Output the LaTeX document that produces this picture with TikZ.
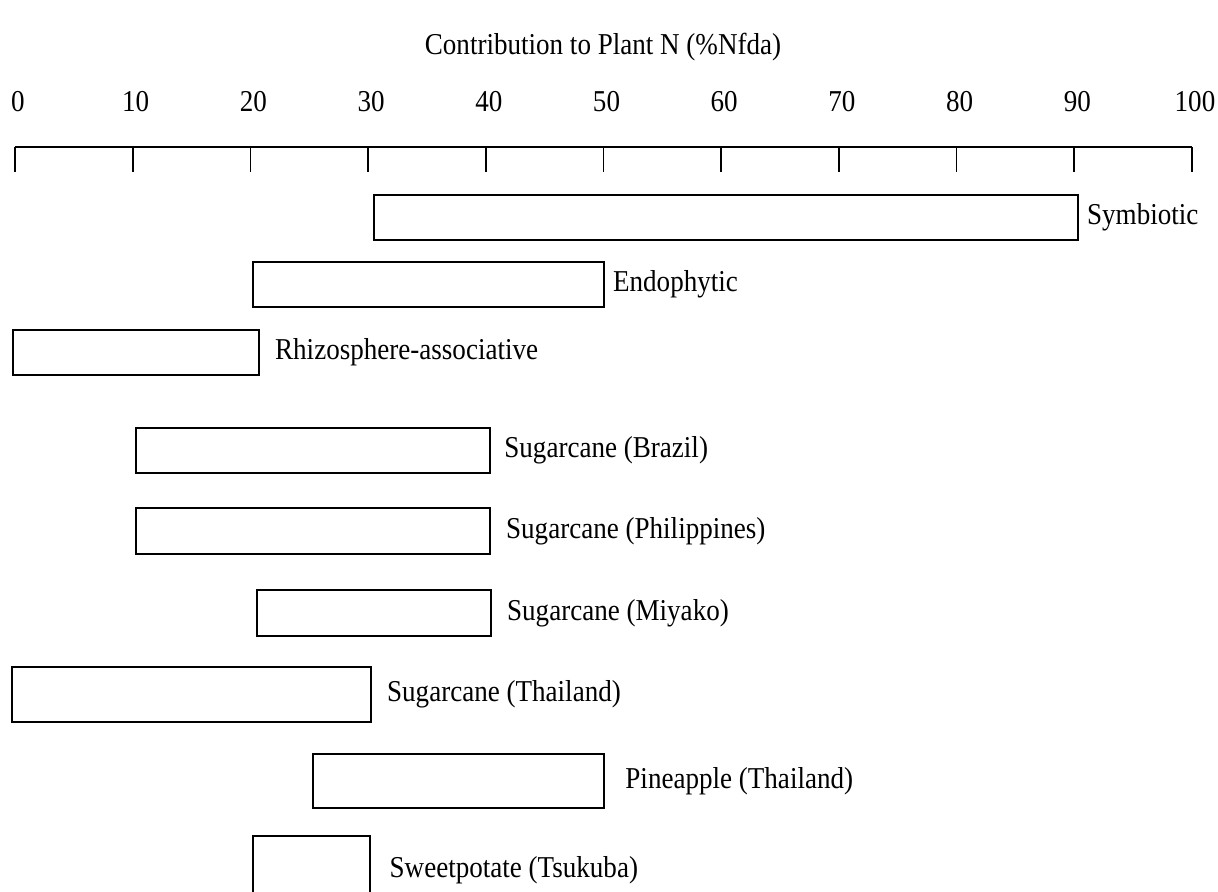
\documentclass[tikz,border=0pt]{standalone}
\usepackage{fontspec}
\setmainfont{Liberation Serif}
\usetikzlibrary{positioning}
\newcommand{\tallfont}[1]{\scalebox{1}[1.12]{#1}}

\begin{document}
\begin{tikzpicture}[x=0.02cm, y=-0.02cm,
    bar/.style={draw, line width=1pt, inner sep=0pt, outer sep=0pt, anchor=north west},
    lab/.style={anchor=west, inner sep=0pt, font=\fontsize{15.4}{18}\selectfont}]
    \useasboundingbox (0,0) rectangle (1218,892);
    \node[font=\fontsize{15.4}{18}\selectfont] (title) at (603,47) {\tallfont{Contribution to Plant N (\%Nfda)}};
    % scale 0..100
    \foreach \v in {0,...,10} {
      \coordinate (t\v) at (15+\v*117.7,147);
      \coordinate (b\v) at (15+\v*117.7,172);
      \node[font=\fontsize{15.4}{18}\selectfont, inner sep=0pt] (n\v) at (18+\v*117.7,102) {\pgfmathparse{int(\v*10)}\tallfont{\pgfmathresult}};
      \draw[line width=1pt] (t\v) -- (b\v);
    }
    \draw[line width=1pt] (t0) -- (t10);
    % ranges
    \foreach \xl/\xr/\yt/\yb/\gap/\nm/\txt in {
        374/1078/195/240/5pt/sym/Symbiotic,
        253/604/262/307/5pt/endo/Endophytic,
        13/259/330/375/9pt/rhizo/Rhizosphere-associative,
        136/490/428/473/8pt/brazil/Sugarcane (Brazil),
        136/490/508/554/9pt/phil/Sugarcane (Philippines),
        257/491/590/636/9pt/miyako/Sugarcane (Miyako),
        12/371/667/722/9pt/thai/Sugarcane (Thailand),
        313/604/754/808/12pt/pine/Pineapple (Thailand),
        253/370/836/905/11pt/sweet/Sweetpotate (Tsukuba)} {
      \node[bar, minimum width={(\xr-\xl)*0.02cm}, minimum height={(\yb-\yt)*0.02cm}] (\nm) at (\xl,\yt) {};
      \node[lab, right=\gap of \nm.east, anchor=west] (\nm-l) {\tallfont{\txt}};
    }
\end{tikzpicture}
\end{document}
